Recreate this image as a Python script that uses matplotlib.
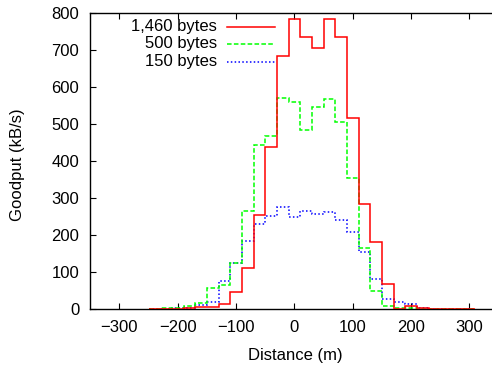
import numpy as np
import matplotlib
matplotlib.use("Agg")
import matplotlib.pyplot as plt

plt.rcParams['font.family'] = ['Liberation Sans', 'DejaVu Sans']
plt.rcParams['font.size'] = 12

# bin centres (m), 20 m wide bins
distance = np.arange(-240, 301, 20)

goodput_1460 = [0, 1, 1, 2, 5, 5, 14, 45, 112, 255, 437, 684, 785, 737,
                707, 785, 735, 518, 285, 181, 67, 0, 7, 2, 1, 0, 0, 0]
goodput_500 = [1, 2, 3, 8, 15, 56, 64, 125, 265, 443, 469, 570, 560, 483,
               547, 567, 505, 354, 166, 50, 9, 4, 2, 1, 1, 0, 0, 0]
goodput_150 = [1, 1, 2, 4, 11, 20, 77, 124, 183, 229, 252, 277, 250, 266,
               258, 263, 242, 209, 155, 80, 27, 20, 14, 4, 1, 1, 1, 1]

labels = ['1,460 bytes', '500 bytes', '150 bytes']
colors = ['#ff0000', '#00ff00', '#0000ff']
styles = ['-', (0, (3, 1.5)), (0, (1, 1.5))]

edges = np.append(distance - 10, distance[-1] + 10)

fig = plt.figure(figsize=(4.92, 3.69), dpi=100)
ax = fig.add_axes([0.1835, 0.1626, 0.8165, 0.8014])

series = [goodput_1460, goodput_500, goodput_150]
for i in [2, 1, 0]:
    ax.stairs(series[i], edges, color=colors[i], linestyle=styles[i],
              linewidth=1.1, baseline=None, zorder=3 - i)

ax.set_xlim(-350, 338.6)
ax.set_ylim(0, 800)
ax.set_xticks(np.arange(-300, 301, 100))
ax.set_yticks(np.arange(0, 801, 100))
ax.tick_params(direction='in', top=True, right=False, length=4, width=0.8, pad=8)
ax.spines['right'].set_visible(False)
for s in ['left', 'bottom', 'top']:
    ax.spines[s].set_linewidth(1.0)

ax.set_xlabel('Distance (m)', va='center')
ax.xaxis.set_label_coords(0.5116, -0.157)
ax.set_ylabel('Goodput (kB/s)', va='center')
ax.yaxis.set_label_coords(-0.1812, 0.487)

# gnuplot-style key: right-aligned text, sample line after it
key_y = [0.9547, 0.8972, 0.8363]
for i in range(3):
    ax.text(0.3147, key_y[i], labels[i], transform=ax.transAxes,
            ha='right', va='center')
    ax.plot([0.341, 0.4598], [key_y[i], key_y[i]], transform=ax.transAxes,
            color=colors[i], linestyle=styles[i], linewidth=1.1)

fig.savefig('out.png', dpi=100)
